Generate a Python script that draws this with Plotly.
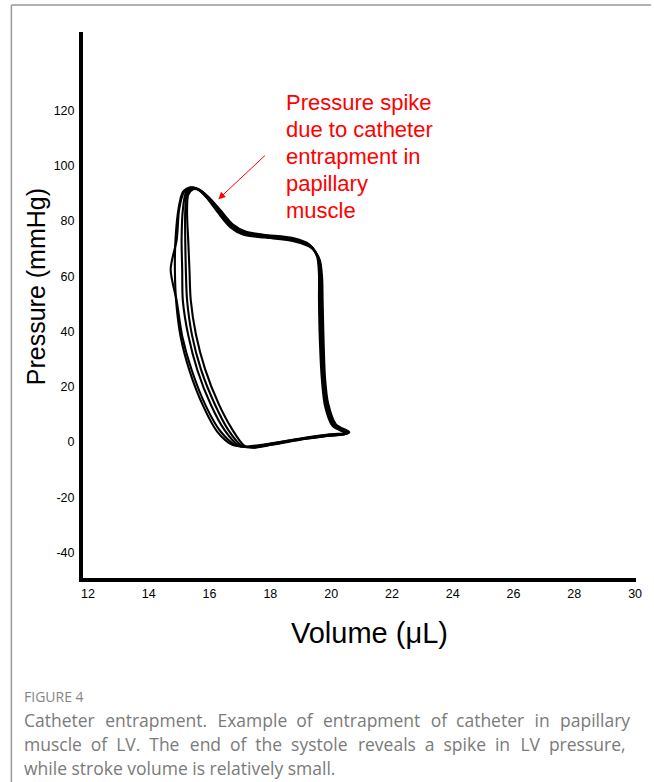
import plotly.graph_objects as go

# ---- data: several recorded PV-loop cycles (volume in µL, pressure in mmHg) ----
vol_c1 = [20.55, 20.10, 19.85, 19.75, 19.68, 19.66, 19.65, 19.58, 19.32, 18.77, 17.80, 17.15, 16.72, 16.33, 15.94, 15.62, 15.42, 15.22, 15.12, 15.08, 15.10, 15.12, 15.30, 15.60, 16.05, 16.50, 16.95, 17.40, 18.00, 18.95, 19.90, 20.55]
prs_c1 = [3.2, 6.0, 13.3, 22.4, 36.8, 51.3, 60.4, 66.6, 70.9, 73.1, 74.5, 75.6, 78.2, 83.2, 88.7, 91.6, 91.9, 90.1, 83.9, 73.1, 62.2, 51.3, 38.6, 26.0, 13.3, 4.2, -1.2, -1.9, -0.8, 1.0, 2.4, 3.2]

vol_c2 = [20.60, 20.15, 19.90, 19.80, 19.75, 19.72, 19.70, 19.62, 19.36, 18.80, 17.82, 17.12, 16.68, 16.28, 15.88, 15.55, 15.36, 15.12, 14.98, 14.88, 14.86, 14.90, 15.05, 15.35, 15.80, 16.25, 16.75, 17.25, 17.95, 18.95, 19.95, 20.60]
prs_c2 = [3.5, 6.5, 14.0, 23.0, 37.0, 51.0, 60.0, 66.0, 70.2, 72.6, 74.0, 75.0, 77.8, 83.0, 88.8, 91.8, 92.2, 90.5, 84.5, 73.5, 62.0, 51.0, 38.0, 25.5, 12.8, 3.8, -1.0, -1.6, -0.6, 1.2, 2.8, 3.5]

vol_c3 = [20.50, 20.05, 19.80, 19.70, 19.63, 19.60, 19.60, 19.54, 19.28, 18.74, 17.78, 17.18, 16.76, 16.38, 15.98, 15.66, 15.46, 15.30, 15.26, 15.30, 15.34, 15.38, 15.55, 15.85, 16.30, 16.75, 17.15, 17.50, 18.05, 18.95, 19.88, 20.50]
prs_c3 = [3.0, 5.8, 13.0, 22.0, 36.5, 51.5, 60.8, 67.0, 71.5, 73.8, 75.0, 76.2, 78.8, 83.6, 88.5, 91.2, 91.5, 89.6, 83.2, 72.5, 62.0, 51.5, 39.0, 26.5, 13.8, 4.5, -1.4, -2.0, -1.0, 0.8, 2.2, 3.0]

vol_c4 = [20.58, 20.12, 19.88, 19.78, 19.71, 19.68, 19.67, 19.60, 19.34, 18.78, 17.80, 17.13, 16.70, 16.30, 15.90, 15.58, 15.38, 15.15, 15.00, 14.92, 14.72, 14.92, 15.10, 15.42, 15.88, 16.35, 16.85, 17.32, 17.98, 18.95, 19.92, 20.58]
prs_c4 = [3.3, 6.2, 13.5, 22.6, 36.9, 51.2, 60.2, 66.3, 70.6, 72.9, 74.3, 75.3, 78.0, 83.1, 88.6, 91.7, 92.0, 90.3, 84.2, 73.3, 62.5, 51.0, 38.3, 25.8, 13.0, 4.0, -1.1, -1.8, -0.7, 1.1, 2.6, 3.3]

vol_c5 = [20.52, 20.08, 19.83, 19.73, 19.66, 19.63, 19.62, 19.56, 19.30, 18.76, 17.79, 17.16, 16.74, 16.35, 15.96, 15.64, 15.44, 15.26, 15.20, 15.20, 15.22, 15.26, 15.42, 15.72, 16.18, 16.62, 17.05, 17.45, 18.02, 18.95, 19.89, 20.52]
prs_c5 = [3.1, 5.9, 13.2, 22.2, 36.6, 51.4, 60.6, 66.8, 71.2, 73.4, 74.8, 75.9, 78.5, 83.4, 88.6, 91.4, 91.7, 89.9, 83.5, 72.8, 62.1, 51.4, 38.8, 26.2, 13.5, 4.3, -1.3, -1.95, -0.9, 0.9, 2.3, 3.1]

x_ticks = [12, 14, 16, 18, 20, 22, 24, 26, 28, 30]
y_ticks = [-40, -20, 0, 20, 40, 60, 80, 100, 120]

spike_lines = ["Pressure spike", "due to catheter", "entrapment in", "papillary", "muscle"]
spike_point = (16.29, 87.9)

caption_head = "FIGURE 4"
caption_lines = [
    "Catheter entrapment. Example of entrapment of catheter in papillary",
    "muscle of LV. The end of the systole reveals a spike in LV pressure,",
    "while stroke volume is relatively small.",
]

# ---- layout geometry (pixels) ----
W, H = 654, 782
L, R, T, B = 83, 15, 32, 204
PW = W - L - R
PH = H - T - B
BOT = H - B


def px(xp):
    return (xp - L) / PW


def py(yp):
    return (BOT - yp) / PH


def justify(line, extras):
    # widen word gaps (justified caption look) with narrow unicode spaces
    words = line.split(" ")
    out = words[0]
    for i, w in enumerate(words[1:]):
        out += " " + extras[i % len(extras)] + w
    return out


fig = go.Figure()
for v, p in [(vol_c1, prs_c1), (vol_c2, prs_c2), (vol_c3, prs_c3), (vol_c4, prs_c4), (vol_c5, prs_c5)]:
    fig.add_trace(go.Scatter(x=v, y=p, mode="lines",
                             line=dict(color="black", width=2.1, shape="spline", smoothing=0.8),
                             showlegend=False, hoverinfo="skip"))

fig.update_layout(
    width=W, height=H,
    margin=dict(l=L, r=R, t=T, b=B, pad=0),
    paper_bgcolor="white", plot_bgcolor="white",
    font=dict(family="Liberation Sans, Arial, sans-serif", color="black"),
    xaxis=dict(range=[11.836, 30.03], tickvals=x_ticks, ticktext=[str(t) for t in x_ticks],
               showline=True, linecolor="black", linewidth=4, showgrid=False, zeroline=False,
               ticks="", tickfont=dict(size=12.5, color="black"), ticklabelstandoff=1),
    yaxis=dict(range=[-49.2, 148.4], tickvals=y_ticks, ticktext=[str(t) for t in y_ticks],
               showline=True, linecolor="black", linewidth=4, showgrid=False, zeroline=False,
               ticks="", tickfont=dict(size=12.5, color="black"), ticklabelstandoff=2),
)

anns = []
# axis titles
anns.append(dict(text="Volume (μL)", xref="paper", yref="paper", x=px(371), y=py(633),
                 showarrow=False, xanchor="center", yanchor="middle",
                 font=dict(size=29, color="black", family="Liberation Sans, Arial, sans-serif")))
anns.append(dict(text="Pressure (mmHg)", xref="paper", yref="paper", x=px(36), y=py(287),
                 showarrow=False, xanchor="center", yanchor="middle", textangle=-90,
                 font=dict(size=25, color="black", family="Liberation Sans, Arial, sans-serif")))
# red annotation text, one line each
for i, s in enumerate(spike_lines):
    anns.append(dict(text=s, xref="paper", yref="paper", x=px(285), y=py(103 + 26.8 * i),
                     showarrow=False, xanchor="left", yanchor="middle", align="left",
                     font=dict(size=22, color="#ff0000", family="Liberation Sans, Arial, sans-serif")))
# arrow
anns.append(dict(text="", x=spike_point[0], y=spike_point[1], xref="x", yref="y",
                 showarrow=True, ax=48, ay=-45, axref="pixel", ayref="pixel",
                 arrowhead=2, arrowsize=1.4, arrowwidth=1, arrowcolor="#ff0000"))
# caption
anns.append(dict(text=caption_head, xref="paper", yref="paper", x=px(22), y=py(696),
                 showarrow=False, xanchor="left", yanchor="middle",
                 font=dict(size=14, color="#858585", family="Open Sans, sans-serif")))
caption_fill = [["\u2004", "\u2004", "\u2005"], ["\u2005", "\u2005", "\u2005", "\u2004"], [""]]
for i, line in enumerate(caption_lines):
    anns.append(dict(text=justify(line, caption_fill[i]), xref="paper", yref="paper", x=px(22), y=py(720 + 24 * i),
                     showarrow=False, xanchor="left", yanchor="middle",
                     font=dict(size=17.5, color="#7a7a7a", family="Open Sans, sans-serif")))
fig.update_layout(annotations=anns)

# page frame lines
fig.add_shape(type="line", xref="paper", yref="paper", x0=px(11), x1=px(654), y0=py(5), y1=py(5),
              line=dict(color="#9a9a9a", width=1.5))
fig.add_shape(type="line", xref="paper", yref="paper", x0=px(11), x1=px(11), y0=py(5), y1=py(782),
              line=dict(color="#9a9a9a", width=1.5))

fig.write_html("out.html", config={"displayModeBar": False},
               post_script="document.body.style.margin='0';document.body.style.overflow='hidden';")
